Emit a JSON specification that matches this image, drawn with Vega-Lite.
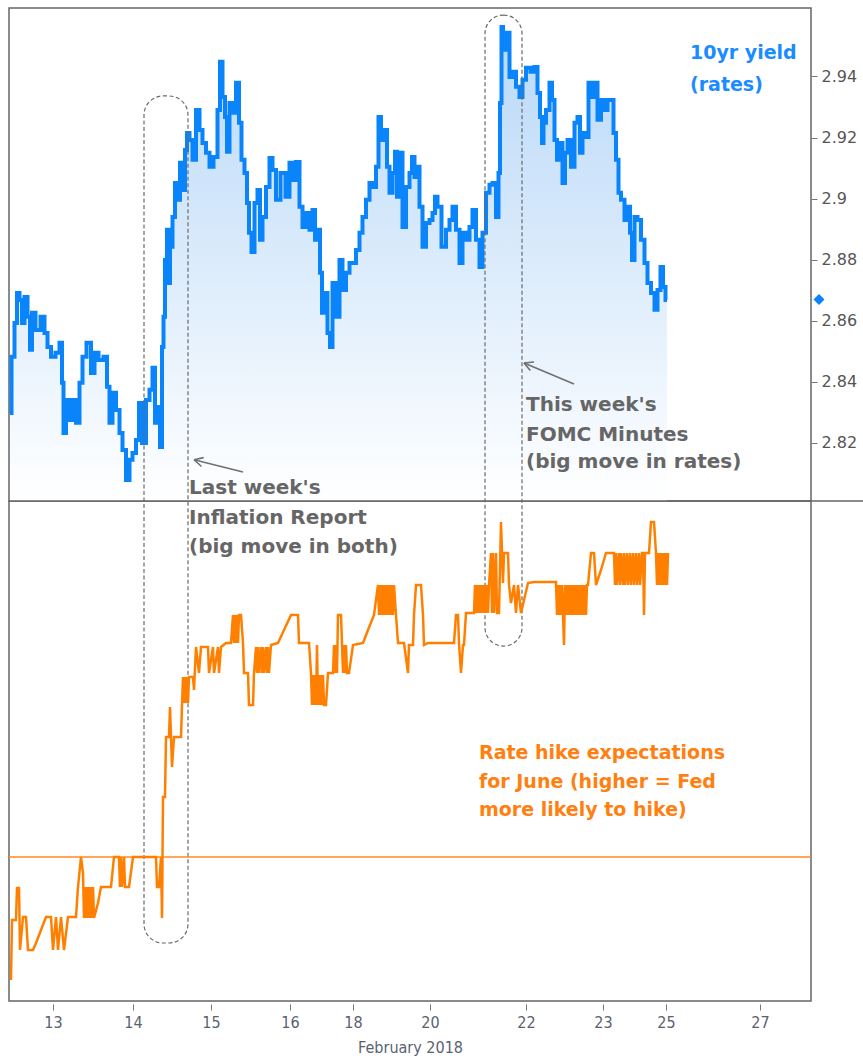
{
"$schema": "https://vega.github.io/schema/vega-lite/v6.json",
"background": "white",
"padding": {"left": 1, "top": 7, "right": 0, "bottom": 0},
"spacing": 0,
"bounds": "flush",
"config": {
  "view": {"stroke": "#666", "strokeWidth": 1.5},
  "axis": {"domain": false, "grid": false, "tickColor": "#777", "labelColor": "#555", "titleColor": "#555"}
},
"datasets": {
  "yield": [
{"bar":1,"v":2.8298},{"bar":4,"v":2.8482},{"bar":7,"v":2.8593},{"bar":9,"v":2.8691},{"bar":12,"v":2.8668},{"bar":14,"v":2.8593},{"bar":17,"v":2.8678},{"bar":20,"v":2.8613},{"bar":22,"v":2.8505},{"bar":24,"v":2.8626},{"bar":29,"v":2.857},{"bar":34,"v":2.8613},{"bar":37,"v":2.856},{"bar":40,"v":2.8514},{"bar":44,"v":2.8482},{"bar":49,"v":2.8495},{"bar":52,"v":2.8528},{"bar":54,"v":2.8397},{"bar":55,"v":2.8233},{"bar":59,"v":2.8341},{"bar":62,"v":2.8275},{"bar":65,"v":2.8341},{"bar":69,"v":2.8266},{"bar":72,"v":2.8397},{"bar":75,"v":2.8482},{"bar":80,"v":2.8528},{"bar":84,"v":2.8429},{"bar":87,"v":2.8495},{"bar":92,"v":2.8472},{"bar":97,"v":2.8482},{"bar":99,"v":2.8384},{"bar":102,"v":2.8266},{"bar":105,"v":2.8364},{"bar":109,"v":2.8308},{"bar":112,"v":2.8233},{"bar":115,"v":2.8177},{"bar":119,"v":2.8079},{"bar":122,"v":2.8145},{"bar":125,"v":2.8167},{"bar":129,"v":2.821},{"bar":131,"v":2.8331},{"bar":135,"v":2.82},{"bar":139,"v":2.8341},{"bar":142,"v":2.8374},{"bar":145,"v":2.8446},{"bar":147,"v":2.8266},{"bar":150,"v":2.8318},{"bar":152,"v":2.8187},{"bar":154,"v":2.8514},{"bar":155,"v":2.8613},{"bar":157,"v":2.8799},{"bar":159,"v":2.8898},{"bar":160,"v":2.8724},{"bar":162,"v":2.8842},{"bar":165,"v":2.894},{"bar":167,"v":2.9051},{"bar":170,"v":2.8996},{"bar":172,"v":2.9117},{"bar":175,"v":2.9028},{"bar":177,"v":2.9159},{"bar":179,"v":2.9215},{"bar":182,"v":2.9192},{"bar":185,"v":2.9127},{"bar":189,"v":2.929},{"bar":192,"v":2.9225},{"bar":195,"v":2.9182},{"bar":199,"v":2.915},{"bar":202,"v":2.9104},{"bar":207,"v":2.9136},{"bar":210,"v":2.929},{"bar":212,"v":2.9448},{"bar":215,"v":2.9333},{"bar":217,"v":2.9267},{"bar":219,"v":2.9153},{"bar":222,"v":2.9313},{"bar":225,"v":2.9281},{"bar":229,"v":2.9379},{"bar":231,"v":2.9248},{"bar":234,"v":2.9127},{"bar":237,"v":2.9084},{"bar":239,"v":2.8986},{"bar":241,"v":2.8888},{"bar":244,"v":2.8825},{"bar":247,"v":2.8986},{"bar":250,"v":2.9028},{"bar":252,"v":2.8865},{"bar":255,"v":2.894},{"bar":259,"v":2.9038},{"bar":262,"v":2.9133},{"bar":265,"v":2.9094},{"bar":269,"v":2.8996},{"bar":274,"v":2.9084},{"bar":279,"v":2.9006},{"bar":282,"v":2.9117},{"bar":285,"v":2.9061},{"bar":289,"v":2.912},{"bar":292,"v":2.8973},{"bar":295,"v":2.8907},{"bar":299,"v":2.8953},{"bar":302,"v":2.8898},{"bar":305,"v":2.8963},{"bar":307,"v":2.8865},{"bar":310,"v":2.8898},{"bar":312,"v":2.8757},{"bar":314,"v":2.8626},{"bar":317,"v":2.8691},{"bar":320,"v":2.856},{"bar":322,"v":2.8514},{"bar":325,"v":2.8724},{"bar":329,"v":2.8613},{"bar":332,"v":2.8799},{"bar":335,"v":2.8701},{"bar":339,"v":2.8757},{"bar":342,"v":2.8789},{"bar":345,"v":2.8789},{"bar":349,"v":2.8832},{"bar":352,"v":2.8888},{"bar":355,"v":2.894},{"bar":359,"v":2.8996},{"bar":362,"v":2.9051},{"bar":365,"v":2.9038},{"bar":369,"v":2.9104},{"bar":370,"v":2.9267},{"bar":374,"v":2.9192},{"bar":377,"v":2.9225},{"bar":379,"v":2.9104},{"bar":382,"v":2.9019},{"bar":385,"v":2.9084},{"bar":387,"v":2.9153},{"bar":389,"v":2.9006},{"bar":392,"v":2.915},{"bar":395,"v":2.8907},{"bar":399,"v":2.9038},{"bar":402,"v":2.9084},{"bar":404,"v":2.9136},{"bar":407,"v":2.9071},{"bar":409,"v":2.9104},{"bar":412,"v":2.8973},{"bar":415,"v":2.8842},{"bar":419,"v":2.892},{"bar":422,"v":2.893},{"bar":425,"v":2.8953},{"bar":427,"v":2.9006},{"bar":430,"v":2.8973},{"bar":435,"v":2.8842},{"bar":439,"v":2.8898},{"bar":442,"v":2.893},{"bar":445,"v":2.8973},{"bar":449,"v":2.8898},{"bar":452,"v":2.8789},{"bar":455,"v":2.8888},{"bar":459,"v":2.8865},{"bar":462,"v":2.8907},{"bar":465,"v":2.8963},{"bar":469,"v":2.8865},{"bar":472,"v":2.8776},{"bar":475,"v":2.8888},{"bar":479,"v":2.9019},{"bar":482,"v":2.9045},{"bar":485,"v":2.9051},{"bar":489,"v":2.894},{"bar":490,"v":2.9084},{"bar":492,"v":2.9313},{"bar":493,"v":2.9562},{"bar":495,"v":2.9487},{"bar":499,"v":2.9543},{"bar":502,"v":2.9398},{"bar":505,"v":2.9415},{"bar":509,"v":2.9366},{"bar":512,"v":2.9333},{"bar":515,"v":2.9389},{"bar":519,"v":2.9428},{"bar":524,"v":2.9415},{"bar":527,"v":2.9431},{"bar":530,"v":2.9346},{"bar":532,"v":2.9267},{"bar":534,"v":2.9182},{"bar":535,"v":2.9248},{"bar":539,"v":2.929},{"bar":542,"v":2.9379},{"bar":544,"v":2.9323},{"bar":547,"v":2.9192},{"bar":549,"v":2.9127},{"bar":552,"v":2.9182},{"bar":555,"v":2.9051},{"bar":557,"v":2.915},{"bar":560,"v":2.9192},{"bar":564,"v":2.9104},{"bar":567,"v":2.9248},{"bar":570,"v":2.9267},{"bar":572,"v":2.915},{"bar":575,"v":2.9215},{"bar":579,"v":2.9202},{"bar":580,"v":2.9379},{"bar":584,"v":2.9333},{"bar":587,"v":2.9379},{"bar":590,"v":2.9258},{"bar":594,"v":2.9323},{"bar":597,"v":2.929},{"bar":600,"v":2.9323},{"bar":604,"v":2.9323},{"bar":605,"v":2.9215},{"bar":609,"v":2.9127},{"bar":610,"v":2.9019},{"bar":614,"v":2.8996},{"bar":617,"v":2.893},{"bar":620,"v":2.8973},{"bar":622,"v":2.8888},{"bar":624,"v":2.8799},{"bar":627,"v":2.894},{"bar":630,"v":2.893},{"bar":634,"v":2.8865},{"bar":637,"v":2.8789},{"bar":640,"v":2.8724},{"bar":644,"v":2.8691},{"bar":647,"v":2.8636},{"bar":650,"v":2.8701},{"bar":653,"v":2.8776},{"bar":655,"v":2.8711},{"bar":658,"v":2.8668}
  ],
  "hike": [
{"bar":2,"p":4.2},{"bar":3,"p":16.2},{"bar":7,"p":16.2},{"bar":8,"p":22.6},{"bar":10,"p":22.6},{"bar":11,"p":10.2},{"bar":14,"p":16.8},{"bar":17,"p":16.8},{"bar":19,"p":10.2},{"bar":24,"p":10.2},{"bar":27,"p":11.6},{"bar":32,"p":14.2},{"bar":37,"p":16.8},{"bar":42,"p":16.8},{"bar":44,"p":10.2},{"bar":47,"p":16.8},{"bar":49,"p":10.2},{"bar":52,"p":16.8},{"bar":55,"p":10.2},{"bar":59,"p":16.8},{"bar":67,"p":16.8},{"bar":69,"p":22.8},{"bar":72,"p":28.8},{"bar":74,"p":25.6},{"bar":75,"p":16.6},{"bar":76,"p":22.8},{"bar":77,"p":16.6},{"bar":78,"p":22.8},{"bar":79,"p":16.6},{"bar":80,"p":22.8},{"bar":81,"p":16.6},{"bar":82,"p":22.8},{"bar":83,"p":16.6},{"bar":84,"p":22.8},{"bar":85,"p":16.6},{"bar":89,"p":19.6},{"bar":92,"p":22.8},{"bar":102,"p":22.8},{"bar":105,"p":28.8},{"bar":110,"p":28.8},{"bar":111,"p":22.8},{"bar":112,"p":28.8},{"bar":113,"p":22.8},{"bar":115,"p":28.8},{"bar":116,"p":22.8},{"bar":117,"p":22.8},{"bar":120,"p":22.8},{"bar":124,"p":28.8},{"bar":147,"p":28.8},{"bar":148,"p":22.8},{"bar":150,"p":22.8},{"bar":152,"p":28.8},{"bar":153,"p":16.6},{"bar":154,"p":40.8},{"bar":156,"p":40.8},{"bar":157,"p":52.8},{"bar":160,"p":52.8},{"bar":161,"p":58.8},{"bar":162,"p":52.8},{"bar":163,"p":46.8},{"bar":165,"p":52.8},{"bar":172,"p":52.8},{"bar":173,"p":59.2},{"bar":174,"p":64.8},{"bar":175,"p":59.6},{"bar":176,"p":64.8},{"bar":177,"p":59.6},{"bar":178,"p":64.8},{"bar":179,"p":59.6},{"bar":180,"p":64.8},{"bar":184,"p":64.8},{"bar":185,"p":62.2},{"bar":187,"p":70.8},{"bar":190,"p":65.6},{"bar":192,"p":70.8},{"bar":199,"p":70.8},{"bar":200,"p":65.6},{"bar":204,"p":70.8},{"bar":205,"p":65.6},{"bar":209,"p":70.8},{"bar":210,"p":65.6},{"bar":212,"p":70.8},{"bar":217,"p":71.6},{"bar":222,"p":71.6},{"bar":224,"p":77.2},{"bar":225,"p":71.6},{"bar":226,"p":77.2},{"bar":227,"p":71.6},{"bar":228,"p":77.2},{"bar":229,"p":71.6},{"bar":230,"p":77.2},{"bar":232,"p":77.2},{"bar":234,"p":71.6},{"bar":235,"p":65.6},{"bar":239,"p":65.6},{"bar":240,"p":59.2},{"bar":244,"p":59.2},{"bar":245,"p":65.6},{"bar":247,"p":70.8},{"bar":248,"p":65.6},{"bar":249,"p":70.8},{"bar":250,"p":65.6},{"bar":252,"p":70.8},{"bar":253,"p":65.6},{"bar":254,"p":70.8},{"bar":255,"p":65.6},{"bar":257,"p":70.8},{"bar":258,"p":65.6},{"bar":259,"p":70.8},{"bar":260,"p":65.6},{"bar":262,"p":71.2},{"bar":269,"p":71.6},{"bar":275,"p":74.2},{"bar":282,"p":77.2},{"bar":289,"p":77.2},{"bar":290,"p":71.6},{"bar":300,"p":71.6},{"bar":302,"p":65.6},{"bar":303,"p":59.2},{"bar":304,"p":65.2},{"bar":305,"p":59.2},{"bar":306,"p":65.2},{"bar":307,"p":59.2},{"bar":308,"p":71.2},{"bar":309,"p":59.2},{"bar":310,"p":65.2},{"bar":311,"p":59.2},{"bar":312,"p":65.2},{"bar":313,"p":59.2},{"bar":314,"p":65.2},{"bar":315,"p":59.2},{"bar":317,"p":59.2},{"bar":319,"p":65.6},{"bar":324,"p":65.6},{"bar":325,"p":71.2},{"bar":326,"p":65.6},{"bar":327,"p":71.2},{"bar":328,"p":65.6},{"bar":329,"p":77.2},{"bar":332,"p":77.2},{"bar":334,"p":65.6},{"bar":335,"p":71.2},{"bar":336,"p":65.6},{"bar":337,"p":71.2},{"bar":338,"p":65.6},{"bar":340,"p":65.6},{"bar":344,"p":71.2},{"bar":354,"p":71.6},{"bar":359,"p":74.2},{"bar":365,"p":77.2},{"bar":369,"p":83.2},{"bar":370,"p":77.2},{"bar":371,"p":83.2},{"bar":372,"p":77.2},{"bar":373,"p":83.2},{"bar":374,"p":77.2},{"bar":375,"p":83.2},{"bar":376,"p":77.2},{"bar":377,"p":83.2},{"bar":378,"p":77.2},{"bar":379,"p":83.2},{"bar":380,"p":77.2},{"bar":381,"p":83.2},{"bar":382,"p":77.2},{"bar":383,"p":83.2},{"bar":384,"p":77.2},{"bar":385,"p":83.2},{"bar":387,"p":77.2},{"bar":389,"p":71.6},{"bar":395,"p":71.6},{"bar":399,"p":65.6},{"bar":400,"p":71.2},{"bar":404,"p":71.2},{"bar":405,"p":77.2},{"bar":407,"p":83.2},{"bar":412,"p":83.2},{"bar":414,"p":77.2},{"bar":415,"p":71.2},{"bar":419,"p":71.6},{"bar":445,"p":71.6},{"bar":447,"p":77.2},{"bar":449,"p":77.2},{"bar":450,"p":71.6},{"bar":452,"p":65.6},{"bar":454,"p":71.2},{"bar":455,"p":71.2},{"bar":457,"p":77.6},{"bar":465,"p":77.6},{"bar":466,"p":83.2},{"bar":467,"p":77.6},{"bar":468,"p":83.2},{"bar":469,"p":77.6},{"bar":470,"p":83.2},{"bar":471,"p":77.6},{"bar":472,"p":83.2},{"bar":473,"p":77.6},{"bar":474,"p":83.2},{"bar":475,"p":77.6},{"bar":476,"p":83.2},{"bar":477,"p":77.6},{"bar":478,"p":83.2},{"bar":479,"p":77.6},{"bar":480,"p":83.2},{"bar":482,"p":89.6},{"bar":483,"p":77.6},{"bar":484,"p":89.6},{"bar":485,"p":77.6},{"bar":487,"p":89.6},{"bar":488,"p":77.6},{"bar":490,"p":77.6},{"bar":492,"p":95.8},{"bar":494,"p":83.6},{"bar":495,"p":89.6},{"bar":499,"p":89.6},{"bar":500,"p":83.2},{"bar":502,"p":79.6},{"bar":505,"p":83.2},{"bar":507,"p":77.6},{"bar":509,"p":83.2},{"bar":512,"p":77.6},{"bar":515,"p":80.2},{"bar":519,"p":83.6},{"bar":525,"p":83.8},{"bar":547,"p":83.8},{"bar":548,"p":77.2},{"bar":549,"p":83.2},{"bar":550,"p":77.2},{"bar":551,"p":83.2},{"bar":552,"p":77.2},{"bar":553,"p":83.2},{"bar":554,"p":77.2},{"bar":555,"p":71.2},{"bar":556,"p":83.2},{"bar":557,"p":77.2},{"bar":558,"p":83.2},{"bar":559,"p":77.2},{"bar":560,"p":83.2},{"bar":561,"p":77.2},{"bar":562,"p":83.2},{"bar":563,"p":77.2},{"bar":564,"p":83.2},{"bar":565,"p":77.2},{"bar":566,"p":83.2},{"bar":567,"p":77.2},{"bar":568,"p":83.2},{"bar":569,"p":77.2},{"bar":570,"p":83.2},{"bar":571,"p":77.2},{"bar":572,"p":83.2},{"bar":573,"p":77.2},{"bar":574,"p":83.2},{"bar":575,"p":77.2},{"bar":576,"p":83.2},{"bar":577,"p":77.2},{"bar":578,"p":83.2},{"bar":579,"p":83.2},{"bar":582,"p":89.6},{"bar":585,"p":89.6},{"bar":587,"p":83.2},{"bar":592,"p":86.2},{"bar":597,"p":89.6},{"bar":605,"p":89.6},{"bar":606,"p":83.2},{"bar":607,"p":89.6},{"bar":608,"p":83.2},{"bar":610,"p":89.6},{"bar":611,"p":83.2},{"bar":612,"p":89.6},{"bar":614,"p":83.2},{"bar":615,"p":89.6},{"bar":616,"p":83.2},{"bar":618,"p":89.6},{"bar":619,"p":83.2},{"bar":621,"p":89.6},{"bar":622,"p":83.2},{"bar":624,"p":89.6},{"bar":625,"p":83.2},{"bar":627,"p":89.6},{"bar":628,"p":83.2},{"bar":630,"p":89.6},{"bar":631,"p":83.2},{"bar":633,"p":89.6},{"bar":634,"p":89.6},{"bar":635,"p":77.2},{"bar":636,"p":89.6},{"bar":640,"p":89.6},{"bar":642,"p":95.8},{"bar":645,"p":95.8},{"bar":647,"p":89.6},{"bar":648,"p":83.2},{"bar":649,"p":89.6},{"bar":650,"p":83.2},{"bar":651,"p":89.6},{"bar":652,"p":83.2},{"bar":653,"p":89.6},{"bar":654,"p":83.2},{"bar":655,"p":89.6},{"bar":656,"p":83.2},{"bar":657,"p":89.6},{"bar":658,"p":83.2},{"bar":659,"p":89.6}
  ],
  "boxes": [
    {"bar": 135, "bar2": 179, "v": 2.9336, "v2": 2.6563},
    {"bar": 476, "bar2": 513, "v": 2.9601, "v2": 2.7535}
  ],
  "arrows": [
    {"bar": 185, "v": 2.8145, "bar2": 234, "v2": 2.8105},
    {"bar": 185, "v": 2.8145, "bar2": 192.5, "v2": 2.8123},
    {"bar": 185, "v": 2.8145, "bar2": 194.7, "v2": 2.8152},
    {"bar": 515, "v": 2.8462, "bar2": 565, "v2": 2.8393},
    {"bar": 515, "v": 2.8462, "bar2": 521.3, "v2": 2.8437},
    {"bar": 515, "v": 2.8462, "bar2": 525, "v2": 2.8465}
  ],
  "notesTopGray": [
    {"bar": 517, "v": 2.8325, "label": "This week's"},
    {"bar": 517, "v": 2.8226, "label": "FOMC Minutes"},
    {"bar": 517, "v": 2.8138, "label": "(big move in rates)"},
    {"bar": 180, "v": 2.8053, "label": "Last week's"}
  ],
  "notesTopBlue": [
    {"bar": 681, "v": 2.9477, "label": "10yr yield"},
    {"bar": 681, "v": 2.9372, "label": "(rates)"}
  ],
  "notesBottomGray": [
    {"bar": 180, "p": 96.6, "label": "Inflation Report"},
    {"bar": 180, "p": 90.8, "label": "(big move in both)"}
  ],
  "notesBottomOrange": [
    {"bar": 470, "p": 49.6, "label": "Rate hike expectations"},
    {"bar": 470, "p": 43.8, "label": "for June (higher = Fed"},
    {"bar": 470, "p": 38.2, "label": "more likely to hike)"}
  ]
},
"vconcat": [
  {
    "width": 802,
    "height": 493,
    "encoding": {
      "x": {"field": "bar", "type": "quantitative", "scale": {"domain": [0, 802], "nice": false, "zero": false}, "axis": null},
      "y": {"field": "v", "type": "quantitative", "scale": {"domain": [2.801, 2.9624], "nice": false, "zero": false},
            "axis": {"orient": "right", "values": [2.82, 2.84, 2.86, 2.88, 2.9, 2.92, 2.94], "labelExpr": "toString(datum.value)", "title": null, "tickSize": 6, "labelPadding": 4, "labelFont": "DejaVu Sans", "labelFontSize": 16}}
    },
    "layer": [
      {
        "data": {"name": "yield"},
        "mark": {"type": "area", "interpolate": "step", "fill": {"gradient": "linear", "x1": 0, "y1": 0, "x2": 0, "y2": 1, "stops": [{"offset": 0, "color": "#b8d8f8"}, {"offset": 1, "color": "#ffffff"}]}},
        "encoding": {"y2": {"datum": 2.801}}
      },
      {
        "data": {"name": "yield"},
        "mark": {"type": "line", "interpolate": "step", "color": "#0a84fa", "strokeWidth": 4, "strokeJoin": "miter"}
      },
      {
        "data": {"name": "boxes"},
        "mark": {"type": "rect", "filled": false, "stroke": "#6a6a6a", "strokeWidth": 1.2, "strokeDash": [4, 2.5], "cornerRadius": 19, "clip": false},
        "encoding": {"x2": {"field": "bar2"}, "y2": {"field": "v2"}}
      },
      {
        "data": {"name": "arrows"},
        "mark": {"type": "rule", "stroke": "#707070", "strokeWidth": 1.6},
        "encoding": {"x2": {"field": "bar2"}, "y2": {"field": "v2"}}
      },
      {
        "data": {"name": "notesTopGray"},
        "mark": {"type": "text", "align": "left", "baseline": "middle", "font": "DejaVu Sans", "fontWeight": "bold", "fontSize": 20, "color": "#666666"},
        "encoding": {"text": {"field": "label"}}
      },
      {
        "data": {"name": "notesTopBlue"},
        "mark": {"type": "text", "align": "left", "baseline": "middle", "font": "DejaVu Sans", "fontWeight": "bold", "fontSize": 19, "color": "#1a8cff"},
        "encoding": {"text": {"field": "label"}}
      },
      {
        "data": {"values": [{"bar": 802, "v": 2.867}]},
        "mark": {"type": "point", "shape": "diamond", "filled": true, "color": "#0a84fa", "size": 120, "opacity": 1, "xOffset": 8, "clip": false}
      },
      {
        "data": {"values": [{"bar": 802, "v": 2.801}]},
        "mark": {"type": "rule", "stroke": "#666", "strokeWidth": 1.5, "clip": false},
        "encoding": {"x2": {"datum": 856}}
      }
    ]
  },
  {
    "width": 802,
    "height": 500,
    "encoding": {
      "x": {"field": "bar", "type": "quantitative", "scale": {"domain": [0, 802], "nice": false, "zero": false},
            "axis": {"values": [44, 124, 202, 281, 344, 421, 517, 594, 657, 751],
                     "labelExpr": "datum.value == 44 ? '13' : datum.value == 124 ? '14' : datum.value == 202 ? '15' : datum.value == 281 ? '16' : datum.value == 344 ? '18' : datum.value == 421 ? '20' : datum.value == 517 ? '22' : datum.value == 594 ? '23' : datum.value == 657 ? '25' : '27'",
                     "title": "February 2018", "offset": 3, "tickSize": 6, "labelPadding": 4,
                     "labelFont": "DejaVu Sans Condensed, Liberation Sans Narrow, Roboto", "labelFontSize": 16, "labelColor": "#5a6270",
                     "titleFont": "DejaVu Sans Condensed, Liberation Sans Narrow, Roboto", "titleFontSize": 16, "titleFontWeight": "normal", "titlePadding": 9, "titleColor": "#5a6270"}},
      "y": {"field": "p", "type": "quantitative", "scale": {"domain": [0, 100], "nice": false, "zero": false}, "axis": null}
    },
    "layer": [
      {
        "data": {"values": [{"p": 28.8}]},
        "mark": {"type": "rule", "stroke": "#ff8a1f", "strokeWidth": 1.5},
        "encoding": {"x": null, "y": {"field": "p", "type": "quantitative"}}
      },
      {
        "data": {"name": "hike"},
        "mark": {"type": "line", "color": "#ff8000", "strokeWidth": 2.5}
      },
      {
        "data": {"name": "notesBottomGray"},
        "mark": {"type": "text", "align": "left", "baseline": "middle", "font": "DejaVu Sans", "fontWeight": "bold", "fontSize": 20, "color": "#666666"},
        "encoding": {"text": {"field": "label"}}
      },
      {
        "data": {"name": "notesBottomOrange"},
        "mark": {"type": "text", "align": "left", "baseline": "middle", "font": "DejaVu Sans", "fontWeight": "bold", "fontSize": 19, "color": "#ff7f11"},
        "encoding": {"text": {"field": "label"}}
      }
    ]
  }
]
}
